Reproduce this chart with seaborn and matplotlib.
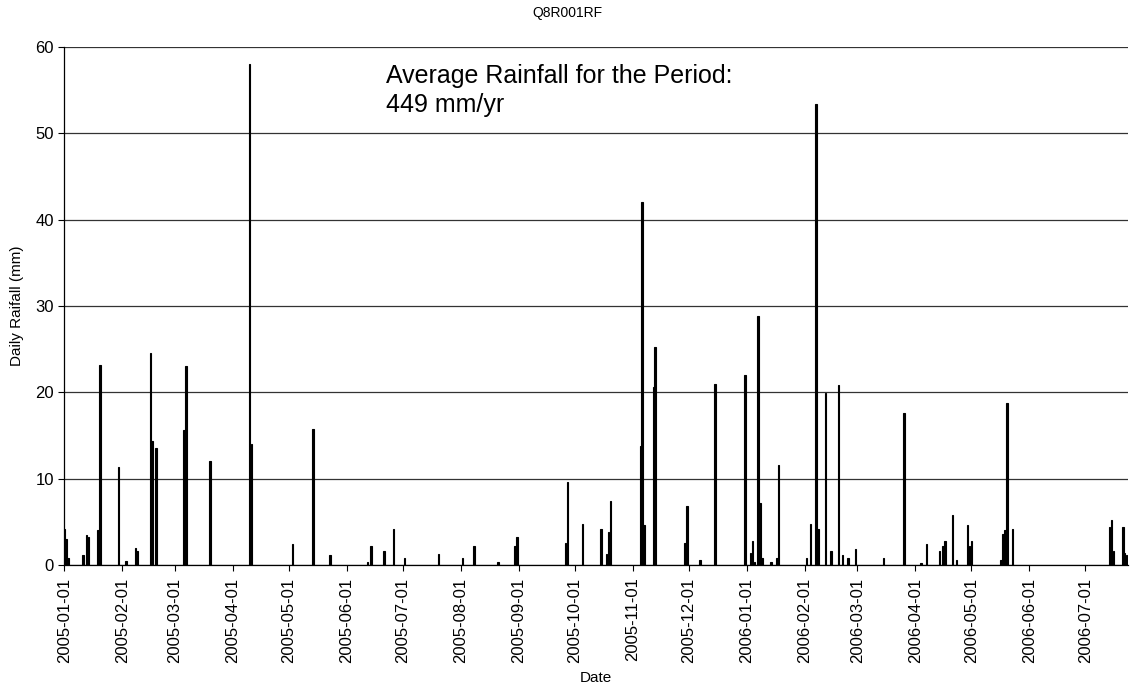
import matplotlib
matplotlib.use("Agg")
import matplotlib.pyplot as plt
import matplotlib.dates as mdates
import seaborn as sns
import pandas as pd

dates = [
    "2005-01-01", "2005-01-02", "2005-01-03", "2005-01-11", "2005-01-13", "2005-01-14",
    "2005-01-19", "2005-01-20", "2005-01-30", "2005-02-03", "2005-02-08", "2005-02-09",
    "2005-02-16", "2005-02-17", "2005-02-19", "2005-03-06", "2005-03-07", "2005-03-20",
    "2005-04-10", "2005-04-11", "2005-05-03", "2005-05-14", "2005-05-23", "2005-06-12",
    "2005-06-14", "2005-06-21", "2005-06-26", "2005-07-02", "2005-07-20", "2005-08-02",
    "2005-08-08", "2005-08-21", "2005-08-30", "2005-08-31", "2005-09-26", "2005-09-27",
    "2005-10-05", "2005-10-15", "2005-10-18", "2005-10-19", "2005-10-20", "2005-11-05",
    "2005-11-06", "2005-11-07", "2005-11-12", "2005-11-13", "2005-11-29", "2005-11-30",
    "2005-12-07", "2005-12-15", "2005-12-31", "2006-01-03", "2006-01-04", "2006-01-05",
    "2006-01-07", "2006-01-08", "2006-01-09", "2006-01-14", "2006-01-17", "2006-01-18",
    "2006-02-02", "2006-02-04", "2006-02-07", "2006-02-08", "2006-02-12", "2006-02-15",
    "2006-02-19", "2006-02-21", "2006-02-24", "2006-02-28", "2006-03-15", "2006-03-26",
    "2006-04-04", "2006-04-07", "2006-04-14", "2006-04-16", "2006-04-17", "2006-04-21",
    "2006-04-23", "2006-04-29", "2006-04-30", "2006-05-01", "2006-05-17", "2006-05-18",
    "2006-05-19", "2006-05-20", "2006-05-23", "2006-07-14", "2006-07-15", "2006-07-16",
    "2006-07-21", "2006-07-22", "2006-07-23",
]
rainfall = [
    4.2, 3.0, 0.8, 1.2, 3.5, 3.2,
    4.0, 23.2, 11.3, 0.45, 2.0, 1.6,
    24.6, 14.4, 13.6, 15.6, 23.0, 12.0,
    58.0, 14.0, 2.4, 15.8, 1.2, 0.4,
    2.2, 1.6, 4.2, 0.8, 1.3, 0.8,
    2.2, 0.3, 2.2, 3.3, 2.6, 9.6,
    4.8, 4.2, 1.3, 3.8, 7.4, 13.8,
    42.0, 4.6, 20.6, 25.2, 2.6, 6.8,
    0.6, 21.0, 22.0, 1.4, 2.8, 0.4,
    28.8, 7.2, 0.8, 0.4, 0.8, 11.6,
    0.8, 4.8, 53.4, 4.2, 19.9, 1.6,
    20.8, 1.2, 0.8, 1.8, 0.8, 17.6,
    0.2, 2.4, 1.6, 2.2, 2.8, 5.8,
    0.6, 4.6, 2.2, 2.8, 0.6, 3.6,
    4.0, 18.8, 4.2, 4.4, 5.2, 1.6,
    4.4, 1.4, 1.2,
]
start_date = "2005-01-01"
end_date = "2006-07-23"
y_ticks = [0, 10, 20, 30, 40, 50, 60]
title = "Q8R001RF"
note = "Average Rainfall for the Period:\n449 mm/yr"

df = pd.DataFrame({"date": pd.to_datetime(dates), "rain": rainfall})
df["x"] = mdates.date2num(df["date"])

sns.set_style("white")
plt.rcParams["font.family"] = ["Liberation Sans", "DejaVu Sans"]
plt.rcParams["text.color"] = "black"
plt.rcParams["axes.labelcolor"] = "black"
plt.rcParams["xtick.color"] = "black"
plt.rcParams["ytick.color"] = "black"

fig = plt.figure(figsize=(11.35, 6.85), dpi=100)
ax = fig.add_axes([64.3 / 1135, 1 - 565 / 685, (1128 - 64.3) / 1135, (565 - 47) / 685])

sns.barplot(data=df, x="x", y="rain", native_scale=True, color="black",
            width=0.8, errorbar=None, ax=ax, saturation=1, linewidth=0.8,
            edgecolor="black")

x0 = mdates.date2num(pd.Timestamp(start_date))
x1 = mdates.date2num(pd.Timestamp(end_date)) + 0.8
ax.set_xlim(x0, x1)
ax.set_ylim(0, 60)
ax.set_yticks(y_ticks)
ax.xaxis.set_major_locator(mdates.MonthLocator(bymonthday=1))
ax.xaxis.set_major_formatter(mdates.DateFormatter("%Y-%m-%d"))
ax.tick_params(axis="x", rotation=90, labelsize=12, length=4, width=0.8,
               direction="out", bottom=True, color="black", pad=5)
ax.tick_params(axis="y", labelsize=12, length=4, width=0.8, direction="out",
               left=True, color="black")

ax.grid(axis="y", color="#333333", linewidth=0.9)
ax.grid(axis="x", visible=False)
ax.set_axisbelow(True)
for s in ["top", "right"]:
    ax.spines[s].set_visible(False)
for s in ["left", "bottom"]:
    ax.spines[s].set_color("black")
    ax.spines[s].set_linewidth(0.9)

ax.set_xlabel("Date", fontsize=11, labelpad=6)
ax.set_ylabel("Daily Raifall (mm)", fontsize=11, labelpad=8)
fig.text(0.5, 1 - 13 / 685, title, ha="center", va="center", fontsize=10)
ax.text(0.302, 0.968, note, transform=ax.transAxes, ha="left", va="top",
        fontsize=18, linespacing=1.3)

fig.savefig("out.png", dpi=100)
